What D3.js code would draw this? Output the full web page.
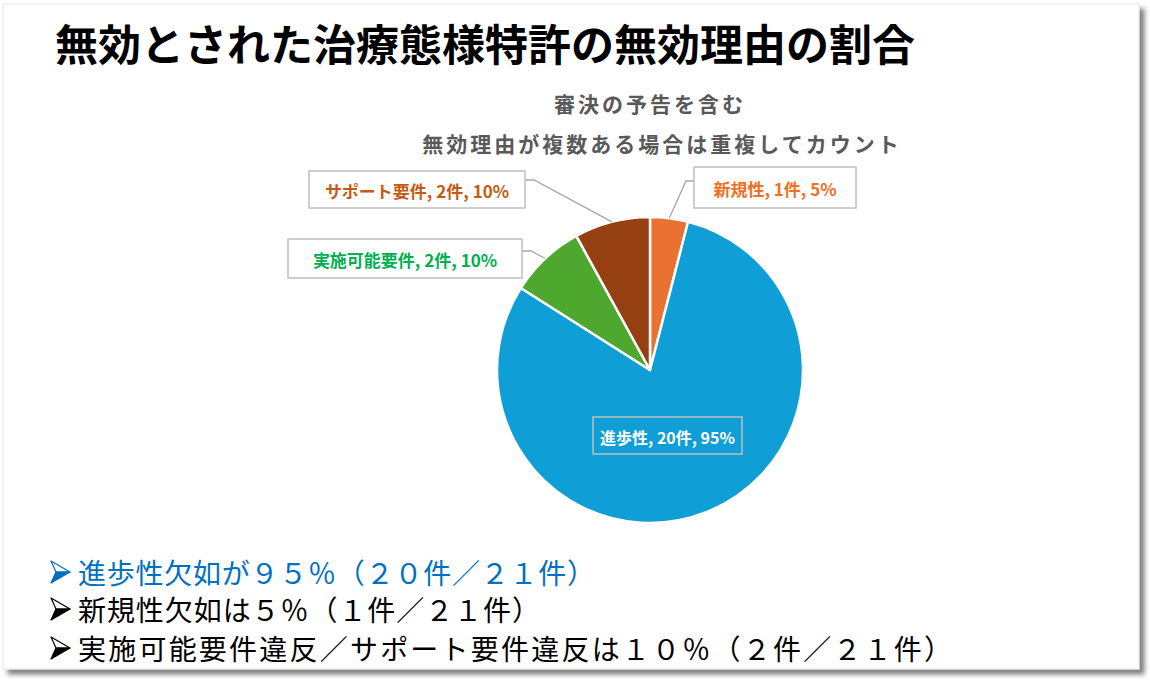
<!DOCTYPE html>
<html>
<head>
<meta charset="utf-8">
<script src="https://cdn.jsdelivr.net/npm/d3@7"></script>
<style>
  html, body { margin: 0; padding: 0; background: #fff; }
  svg { display: block; font-family: "Noto Sans CJK JP", "Noto Sans", sans-serif; }
</style>
</head>
<body>
<svg id="chart" width="1150" height="682"></svg>
<script>
// data
var categories = ["新規性", "進歩性", "実施可能要件", "サポート要件"];
var counts = [1, 20, 2, 2];
var percents = [5, 95, 10, 10];
var sliceColors = ["#e97132", "#0f9ed5", "#4ea72e", "#963f10"];
var labelColors = ["#f0701e", "#ffffff", "#00b050", "#c55a11"];

var titleText = "無効とされた治療態様特許の無効理由の割合";
var noteLines = ["審決の予告を含む", "無効理由が複数ある場合は重複してカウント"];
var bullets = [
  { text: "進歩性欠如が９５％（２０件／２１件）", color: "#0070c0" },
  { text: "新規性欠如は５％（１件／２１件）", color: "#000000" },
  { text: "実施可能要件違反／サポート要件違反は１０％（２件／２１件）", color: "#000000" }
];

// layout: label boxes (x, y, w, h) and the y where the leader meets the box
var labelBoxes = [
  { x: 694, y: 167, w: 162, h: 41, ly: 181, side: "left", fs: 17 },
  { x: 593, y: 417, w: 149, h: 37, ly: null, side: null, fs: 16 },
  { x: 288, y: 239, w: 234, h: 39, ly: 251, side: "right", fs: 17 },
  { x: 309, y: 171, w: 216, h: 37, ly: 180, side: "right", fs: 17 }
];
var bulletY = [572, 609, 648], bulletLen = [517, 462, 874];

var svg = d3.select("#chart");

// slide frame with drop shadow
var defs = svg.append("defs");
var f = defs.append("filter").attr("id", "shadow").attr("x", "-5%").attr("y", "-5%").attr("width", "110%").attr("height", "110%");
f.append("feDropShadow").attr("dx", 5).attr("dy", 5).attr("stdDeviation", 2.5).attr("flood-color", "#000").attr("flood-opacity", 0.5);
svg.append("rect").attr("x", 3).attr("y", 4).attr("width", 1136).attr("height", 665)
  .attr("fill", "#fff").attr("stroke", "#e6e6e6").attr("stroke-width", 1).attr("filter", "url(#shadow)");

// title
svg.append("text").attr("x", 55).attr("y", 42).attr("dominant-baseline", "central")
  .attr("font-size", 43).attr("font-weight", 700).attr("fill", "#000").text(titleText);

// chart notes
svg.selectAll("text.note").data(noteLines).enter().append("text").attr("class", "note")
  .attr("x", function (d, i) { return i === 0 ? 650 : 662; })
  .attr("y", function (d, i) { return 103 + i * 40; })
  .attr("text-anchor", "middle").attr("dominant-baseline", "central")
  .attr("font-size", 21).attr("font-weight", 700).attr("letter-spacing", 3).attr("fill", "#595959")
  .text(function (d) { return d; });

// pie
var cx = 650, cy = 370, R = 153;
var pie = d3.pie().sort(null).value(function (d) { return d; });
var arcs = pie(counts);
var arc = d3.arc().innerRadius(0).outerRadius(R);
var edge = d3.arc().innerRadius(R).outerRadius(R);
var g = svg.append("g").attr("transform", "translate(" + cx + "," + cy + ")");
g.selectAll("path.slice").data(arcs).enter().append("path").attr("class", "slice")
  .attr("d", arc).attr("fill", function (d, i) { return sliceColors[i]; })
  .attr("stroke", "#fff").attr("stroke-width", 2.5).attr("stroke-linejoin", "round");

// leader lines
arcs.forEach(function (a, i) {
  var b = labelBoxes[i];
  if (!b.side) return;
  var p = edge.centroid(a);
  var px = cx + p[0], py = cy + p[1];
  var ex = b.side === "left" ? b.x : b.x + b.w;
  var kx = b.side === "left" ? ex - 8 : ex + 9;
  svg.append("path").attr("d", "M" + px + "," + py + "L" + kx + "," + b.ly + "L" + ex + "," + b.ly)
    .attr("fill", "none").attr("stroke", "#a6a6a6").attr("stroke-width", 1.3);
});

// label boxes
arcs.forEach(function (a, i) {
  var b = labelBoxes[i];
  svg.append("rect").attr("x", b.x).attr("y", b.y).attr("width", b.w).attr("height", b.h)
    .attr("fill", i === 1 ? "none" : "#fff").attr("stroke", "#bfbfbf").attr("stroke-width", 1.5);
  svg.append("text").attr("x", b.x + b.w / 2).attr("y", b.y + b.h / 2 + 1)
    .attr("text-anchor", "middle").attr("dominant-baseline", "central")
    .attr("font-size", b.fs).attr("font-weight", 700).attr("fill", labelColors[i])
    .text(categories[i] + ", " + counts[i] + "件, " + percents[i] + "%");
});

// bullets: 3D arrowhead marker + text
var bl = svg.selectAll("g.bullet").data(bullets).enter().append("g").attr("class", "bullet")
  .attr("transform", function (d, i) { return "translate(0," + bulletY[i] + ")"; });
// upper (light) half
bl.append("path").attr("d", "M51,-11L70,0L56,0Z")
  .attr("fill", "#fff").attr("stroke", function (d) { return d.color; }).attr("stroke-width", 1.2).attr("stroke-linejoin", "round");
// lower (dark) half
bl.append("path").attr("d", "M56,0L70,0L51,11Z")
  .attr("fill", function (d) { return d.color; }).attr("stroke", function (d) { return d.color; }).attr("stroke-width", 1.2).attr("stroke-linejoin", "round");
bl.append("text").attr("x", 78).attr("dominant-baseline", "central")
  .attr("font-size", 28)
  .attr("textLength", function (d, i) { return bulletLen[i]; }).attr("lengthAdjust", "spacing")
  .attr("fill", function (d) { return d.color; })
  .text(function (d) { return d.text; });
</script>
</body>
</html>
